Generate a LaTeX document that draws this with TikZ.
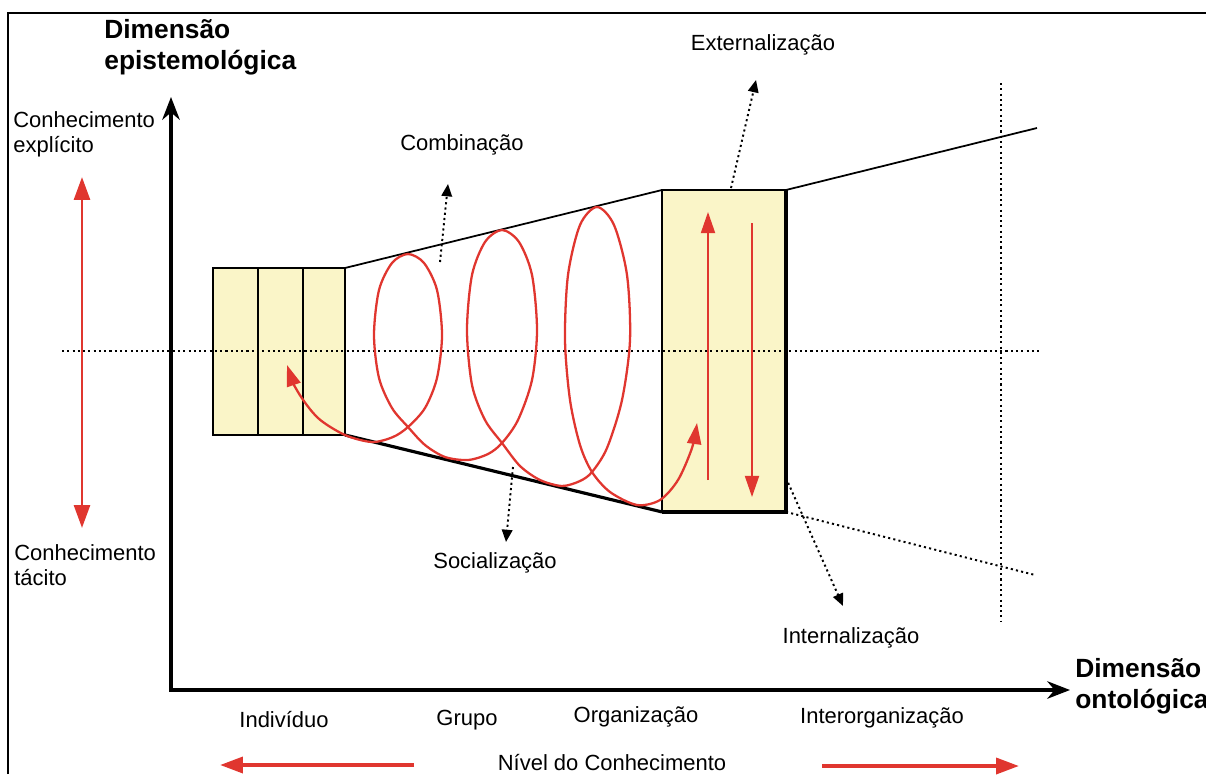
\documentclass[tikz,border=0pt]{standalone}
\usepackage{fontspec}
\setmainfont{Liberation Sans}
\usetikzlibrary{arrows.meta,positioning,calc}
\definecolor{kred}{HTML}{E0362F}
\definecolor{kcream}{HTML}{FAF5C8}

\begin{document}
\begin{tikzpicture}[x=0.02cm, y=-0.02cm,
      lbl/.style={font=\fontsize{12.5}{14.2}\selectfont, align=left, inner sep=0pt},
      ttl/.style={font=\bfseries\fontsize{15}{17.6}\selectfont, align=left, inner sep=0pt},
      cell/.style={draw, line width=1pt, fill=kcream, anchor=north west, inner sep=0pt, outer sep=0pt},
      axis/.style={line width=1.8pt, {Stealth[length=13pt,width=10pt]}-{Stealth[length=13pt,width=10pt]}},
      redarr/.style={kred, line width=1.7pt, -{Triangle[length=13pt,width=9pt]}},
      thinred/.style={kred, line width=1pt, -{Triangle[length=12pt,width=8pt]}},
      dotarr/.style={line width=1.1pt, dash pattern=on 1.2pt off 1.8pt, -{Triangle[length=7pt,width=6pt]}},
      guide/.style={line width=1.1pt, dash pattern=on 1.2pt off 1.8pt}]
  \useasboundingbox (0,0) rectangle (1206,774);
  \draw[line width=1.2pt] (8,774) -- (8,13) -- (1206,13);

  \node[ttl, anchor=north west] (epi) at (104,19) {Dimensão\\epistemológica};
  \node[ttl, anchor=north west] (ont) at (1075,658) {Dimensão\\ontológica};
  \node[lbl, anchor=north west] (expl) at (13,111) {Conhecimento\\explícito};
  \node[lbl, anchor=north west] (tac) at (14,544) {Conhecimento\\tácito};
  \node[lbl] (comb) at (462,145) {Combinação};
  \node[lbl] (ext) at (763,45) {Externalização};
  \node[lbl] (soc) at (495,563) {Socialização};
  \node[lbl] (int) at (851,638) {Internalização};
  \node[lbl] (indv) at (284,720) {Indivíduo};
  \node[lbl] (grp) at (467,720) {Grupo};
  \node[lbl] (org) at (636,717) {Organização};
  \node[lbl] (iorg) at (882,718) {Interorganização};
  \node[lbl] (nivel) at (612,763) {Nível do Conhecimento};

  \coordinate (o) at (171,690);
  \coordinate (ytip) at (171,97);
  \coordinate (xtip) at (1070,690);

  \node[cell, minimum width=0.9cm, minimum height=3.34cm] (i1) at (213,268) {};
  \node[cell, minimum width=0.9cm, minimum height=3.34cm] (i2) at (i1.north east) {};
  \node[cell, minimum width=0.84cm, minimum height=3.34cm] (i3) at (i2.north east) {};
  \node[cell, minimum width=2.48cm, minimum height=6.44cm] (box) at (662,190) {};
  \draw[line width=1.8pt] (box.north east) -- (box.south east) -- (box.south west);

  \draw[guide] (62,351) -- (1040,351);
  \draw[guide] (1001,83) -- (1001,622);

  \draw[line width=1pt] (i3.north east) -- (box.north west);
  \draw[line width=1.8pt] (i3.south east) -- (box.south west);
  \draw[line width=1pt] (box.north east) -- (1037,128);
  \draw[guide] (box.south east) -- (1035,575);

  \draw[axis] (ytip) -- (o) -- (xtip);

  \draw[redarr, {Triangle[length=13pt,width=9pt]}-{Triangle[length=13pt,width=9pt]}] (82,528) -- (82,177);
  \draw[thinred] (708,480) -- (708,212);
  \draw[thinred] (752,223) -- (752,497);

  \draw[kred, line width=1.3pt, {Triangle[length=12pt,width=8pt]}-{Triangle[length=12pt,width=8pt]}]
    plot[smooth, tension=0.5] coordinates {(287,365) (298,392) (318,418) (345,435) (372,442) (393,437)
    (408,427) (425,408) (437,378) (442,335) (437,290) (424,263) (408,254) (392,263) (379,290) (374,335)
    (379,378) (392,408) (408,427) (425,445) (445,457) (468,460) (488,454) (502,443) (518,420) (532,380)
    (537,330) (532,275) (519,242) (502,230) (485,242) (472,275) (467,330) (472,385) (485,420) (502,443)
    (520,466) (540,480) (562,486) (580,481) (592,472) (607,448) (622,400) (630,340) (627,275) (614,225)
    (597,207) (580,225) (568,275) (565,340) (570,400) (580,445) (592,472) (610,492) (637,505) (660,500)
    (678,480) (692,448) (697,423)};

  \coordinate (combfoot) at (440,262);
  \coordinate (combhead) at (448,184);
  \coordinate (extfoot) at (731,188);
  \coordinate (exthead) at (756,80);
  \coordinate (socfoot) at (513,467);
  \coordinate (sochead) at (506,542);
  \coordinate (intfoot) at (786,478);
  \coordinate (inthead) at (843,606);
  \draw[dotarr] (combfoot) -- (combhead);
  \draw[dotarr] (extfoot) -- (exthead);
  \draw[dotarr] (socfoot) -- (sochead);
  \draw[dotarr] (intfoot) -- (inthead);

  \coordinate (lfrom) at (414,765);
  \coordinate (lto) at (220,765);
  \coordinate (rfrom) at (822,766);
  \coordinate (rto) at (1019,766);
  \draw[redarr, line width=2.2pt] (lfrom) -- (lto);
  \draw[redarr, line width=2.2pt] (rfrom) -- (rto);
\end{tikzpicture}
\end{document}
